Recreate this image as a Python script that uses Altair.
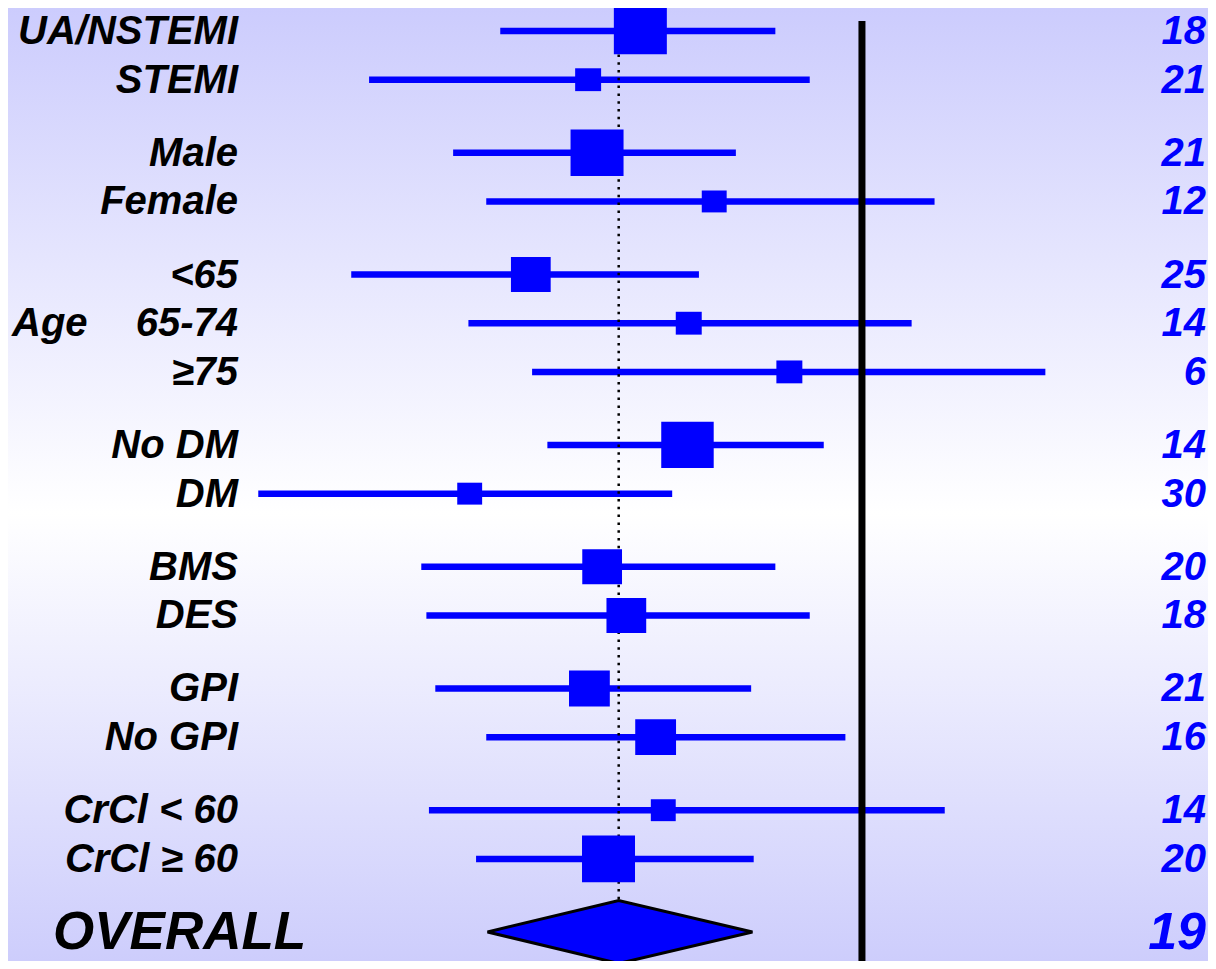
import altair as alt
import pandas as pd

# ---------------- data ----------------
labels = ["UA/NSTEMI", "STEMI", "Male", "Female", "<65", "65-74", "\u226575",
          "No DM", "DM", "BMS", "DES", "GPI", "No GPI", "CrCl < 60", "CrCl \u2265 60"]
group_sizes = [2, 2, 3, 2, 2, 2, 2]
hr = [0.826, 0.785, 0.792, 0.884, 0.740, 0.864, 0.943,
      0.863, 0.692, 0.796, 0.815, 0.786, 0.838, 0.844, 0.801]
ci_lo = [0.716, 0.613, 0.679, 0.705, 0.599, 0.691, 0.741,
         0.753, 0.526, 0.654, 0.658, 0.665, 0.705, 0.660, 0.697]
ci_hi = [0.932, 0.959, 0.901, 1.057, 0.872, 1.039, 1.144,
         0.970, 0.851, 0.932, 0.959, 0.913, 0.987, 1.065, 0.915]
weight = [1.0, 0.49, 1.0, 0.47, 0.75, 0.49, 0.49,
          0.99, 0.47, 0.75, 0.75, 0.77, 0.77, 0.47, 1.0]
pct = [18, 21, 21, 12, 25, 14, 6, 14, 30, 20, 18, 21, 16, 14, 20]

age_label = "Age"
age_row_index = 5
overall_label = "OVERALL"
overall_hr, overall_lo, overall_hi, overall_pct = 0.809, 0.706, 0.914, 19
null_value = 1.0

# ---------------- layout helpers ----------------
W, H = 1200, 953
BLUE = "#0000FF"
FONT = "Liberation Sans"
DIA_H = 0.647  # diamond half height in row units

rows = []
r = 0.0
for n in group_sizes:
    for _ in range(n):
        rows.append(r)
        r += 1
    r += 0.5
overall_row = r

X = alt.Scale(domain=[0.3295, 1.2717], nice=False, zero=False)
Y = alt.Scale(domain=[-0.4723, 19.0965], nice=False, zero=False, reverse=True)

df = pd.DataFrame({"label": labels, "row": rows, "hr": hr, "lo": ci_lo, "hi": ci_hi,
                   "w2": [w * w for w in weight], "pct": [str(p) for p in pct]})

grad = alt.Gradient(
    gradient="linear",
    stops=[alt.GradientStop(color="#CCCCFD", offset=0),
           alt.GradientStop(color="#FFFFFF", offset=0.53),
           alt.GradientStop(color="#CDCDFC", offset=1)],
    x1=0, x2=0, y1=0, y2=1)

bg = alt.Chart(pd.DataFrame({"a": [0]})).mark_rect(fill=grad).encode(
    x=alt.value(0), x2=alt.value(W), y=alt.value(0), y2=alt.value(H))

ref = alt.Chart(pd.DataFrame({"v": [null_value]})).mark_rule(
    color="black", strokeWidth=7).encode(
    x=alt.X("v:Q", scale=X, axis=None), y=alt.value(13), y2=alt.value(H))

dotted = alt.Chart(pd.DataFrame({"v": [overall_hr], "r1": [rows[0]],
                                 "r2": [overall_row - DIA_H]})).mark_rule(
    color="black", strokeWidth=2.5, strokeDash=[2.5, 5.3]).encode(
    x=alt.X("v:Q", scale=X, axis=None),
    y=alt.Y("r1:Q", scale=Y, axis=None), y2="r2:Q")

base = alt.Chart(df)

ci = base.mark_rule(color=BLUE, strokeWidth=6.5).encode(
    x=alt.X("lo:Q", scale=X, axis=None), x2="hi:Q",
    y=alt.Y("row:Q", scale=Y, axis=None))

boxes = base.mark_point(shape="M-1,-0.88H1V0.88H-1Z", filled=True, opacity=1,
                        color=BLUE, strokeWidth=0).encode(
    x=alt.X("hr:Q", scale=X, axis=None),
    y=alt.Y("row:Q", scale=Y, axis=None),
    size=alt.Size("w2:Q", scale=alt.Scale(domain=[0, 1], range=[0, 53 * 53]), legend=None))

dia_df = pd.DataFrame({
    "x": [overall_lo, overall_hr, overall_hi],
    "y": [overall_row, overall_row - DIA_H, overall_row],
    "y2": [overall_row, overall_row + DIA_H, overall_row]})
diamond = alt.Chart(dia_df).mark_area(color=BLUE, stroke="black", strokeWidth=3,
                                      opacity=1).encode(
    x=alt.X("x:Q", scale=X, axis=None),
    y=alt.Y("y:Q", scale=Y, axis=None), y2="y2:Q")

txt = dict(font=FONT, fontStyle="italic", fontWeight="bold", baseline="alphabetic")

left = base.mark_text(align="right", dy=13, fontSize=40, color="black", **txt).encode(
    x=alt.value(230), y=alt.Y("row:Q", scale=Y, axis=None), text="label:N")

right = base.mark_text(align="right", dy=13, fontSize=40, color=BLUE, **txt).encode(
    x=alt.value(1198), y=alt.Y("row:Q", scale=Y, axis=None), text="pct:N")

age = alt.Chart(pd.DataFrame({"t": [age_label], "row": [rows[age_row_index]]})).mark_text(
    align="left", dy=13, fontSize=40, color="black", **txt).encode(
    x=alt.value(4), y=alt.Y("row:Q", scale=Y, axis=None), text="t:N")

ov = alt.Chart(pd.DataFrame({"t": [overall_label], "p": [str(overall_pct)],
                             "row": [overall_row]}))
ov_label = ov.mark_text(align="left", dy=17, fontSize=53, color="black", **txt).encode(
    x=alt.value(45), y=alt.Y("row:Q", scale=Y, axis=None), text="t:N")
ov_pct = ov.mark_text(align="right", dy=17, fontSize=52, color=BLUE, **txt).encode(
    x=alt.value(1198), y=alt.Y("row:Q", scale=Y, axis=None), text="p:N")

chart = alt.layer(bg, ci, dotted, ref, boxes, diamond, left, right, age,
                  ov_label, ov_pct).properties(
    width=W, height=H, padding=0, autosize=alt.AutoSizeParams(type="none")
).configure_view(strokeWidth=0)

chart.save("out.html", embed_options={"renderer": "svg", "actions": False})
